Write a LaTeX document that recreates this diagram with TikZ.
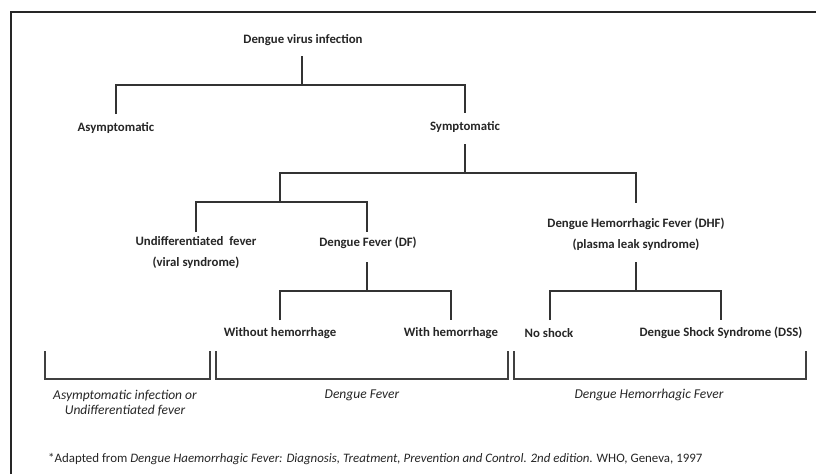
\documentclass[tikz,border=0pt]{standalone}
\usepackage{fontspec}
\setmainfont{Carlito}
\begin{document}
\begin{tikzpicture}[x=1pt,y=-1pt,
  lbl/.style={font=\bfseries\fontsize{12.8}{21}\selectfont, text=black!85, inner sep=1pt, align=center},
  itl/.style={font=\itshape\fontsize{13.5}{15.5}\selectfont, text=black!85, inner sep=1pt, align=center},
  ln/.style={line width=1.6pt, draw=black!80},
  brk/.style={line width=1.4pt, draw=black!75}]
\useasboundingbox (0,0) rectangle (816,474);
\fill[white] (0,0) rectangle (816,474);
% frame
\draw[line width=1.3pt, black!85] (11,474) -- (11,12) -- (816,12);

% nodes
\node[lbl] (root) at (303,40) {Dengue virus infection};
\node[lbl] (asym) at (116,128) {Asymptomatic};
\node[lbl] (sym) at (465,127) {Symptomatic};
\node[lbl] (undif) at (196,253) {Undifferentiated\ \ fever\\(viral syndrome)};
\node[lbl] (df) at (368,243) {Dengue Fever (DF)};
\node[lbl] (dhf) at (636,234) {Dengue Hemorrhagic Fever (DHF)\\(plasma leak syndrome)};
\node[lbl] (woh) at (280,333) {Without hemorrhage};
\node[lbl] (wh) at (451,333) {With hemorrhage};
\node[lbl] (nos) at (549,333) {No shock};
\node[lbl] (dss) at (721,333) {Dengue Shock Syndrome (DSS)};

% connectors
\coordinate (j1) at (302,85);
\draw[ln] (302,56) -- (j1);
\draw[ln] (asym.north |- 0,114) -- (asym.north |- j1) -- (sym.north |- j1) -- (sym.north |- 0,113);
\coordinate (j2) at (465,173);
\draw[ln] (sym.south |- 0,144) -- (j2);
\draw[ln] (280,202) -- (280,173) -- (636,173) -- (636,203);
\draw[ln] (196,232) -- (196,202) -- (367,202) -- (367,232);
\draw[ln] (367,262) -- (367,291);
\draw[ln] (280,320) -- (280,291) -- (451,291) -- (451,320);
\draw[ln] (636,262) -- (636,291);
\draw[ln] (550,320) -- (550,291) -- (721,291) -- (721,320);

% brackets
\draw[brk] (45,351) -- (45,379) -- (210,379) -- (210,351);
\draw[brk] (216,351) -- (216,379) -- (508,379) -- (508,351);
\draw[brk] (514,351) -- (514,379) -- (806,379) -- (806,351);

\node[itl] (b1) at (125,403) {Asymptomatic infection or\\Undifferentiated fever};
\node[itl] (b2) at (362,395) {Dengue Fever};
\node[itl] (b3) at (649,395) {Dengue Hemorrhagic Fever};

\node[font=\fontsize{12.9}{15}\selectfont, text=black!85, anchor=west, inner sep=0pt] (fn) at (48,459)
 {*Adapted from \textit{Dengue Haemorrhagic Fever: Diagnosis, Treatment, Prevention and Control. 2nd edition.} WHO, Geneva, 1997};
\end{tikzpicture}
\end{document}
